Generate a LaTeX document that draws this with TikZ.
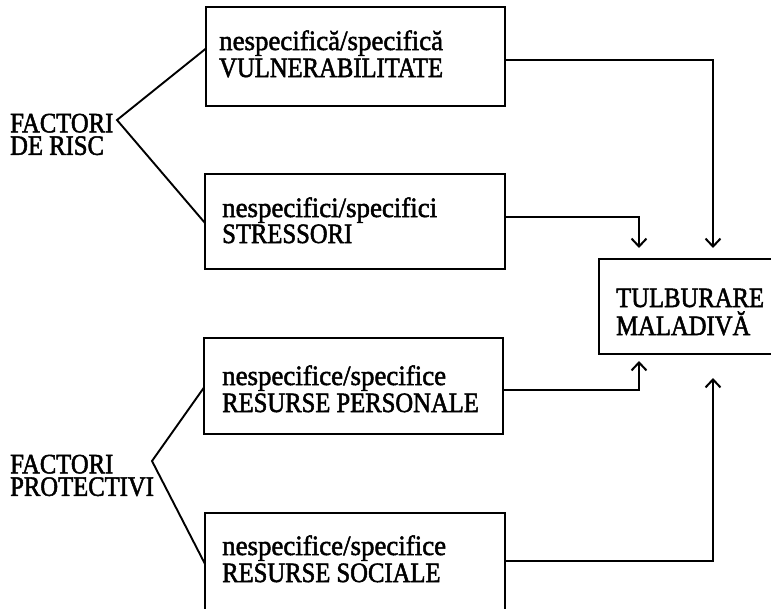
\documentclass[tikz,border=0pt]{standalone}
\usepackage{fontspec}
\setmainfont{Liberation Serif}
\newfontfamily\lowfont[FakeStretch=0.96,FakeBold=1.8]{Liberation Serif}
\newfontfamily\capsfont[FakeStretch=0.88,FakeBold=1.8]{Liberation Serif}
\usetikzlibrary{arrows.meta,calc}

\begin{document}
\begin{tikzpicture}[x=1pt,y=-1pt,
    box/.style={draw,line width=2pt,inner sep=0pt,outer sep=0pt},
    lower/.style={anchor=base west,inner sep=0pt,text height=19pt,text depth=5pt,
                  font=\lowfont\fontsize{28}{28}\selectfont},
    upper/.style={anchor=base west,inner sep=0pt,text height=19pt,text depth=0.5pt,
                  font=\capsfont\fontsize{28}{28}\selectfont},
    group/.style={anchor=south west,inner sep=0pt,text depth=0pt,align=left,
                  font=\capsfont\fontsize{28}{22.5}\selectfont},
    link/.style={line width=1.9pt,line join=miter},
    flow/.style={line width=1.9pt,-{Straight Barb[length=8pt,width=15pt,line width=2pt]}}]

  \useasboundingbox (0,0) rectangle (771,608);
  \clip (0,0) rectangle (771,608);

  % the five boxes
  \node[box,minimum width=299pt,minimum height=99pt] (vuln) at (355.5,56.5) {};
  \node[box,minimum width=300pt,minimum height=95pt] (stress) at (355,221.5) {};
  \node[box,minimum width=299pt,minimum height=96pt] (pers) at (353.5,386) {};
  \node[box,minimum width=300pt,minimum height=98pt] (soc) at (355,562) {};
  \node[box,minimum width=200pt,minimum height=95pt] (tulb) at (699,306.5) {};

  % box texts
  \node[lower] (vulnA) at (219,50) {nespecifică/specifică};
  \node[upper] (vulnB) at (219,77) {VULNERABILITATE};
  \node[lower] (stressA) at (222,217) {nespecifici/specifici};
  \node[upper] (stressB) at (222,243) {STRESSORI};
  \node[lower] (persA) at (222,385) {nespecifice/specifice};
  \node[upper] (persB) at (222,412) {RESURSE PERSONALE};
  \node[lower] (socA) at (222,555) {nespecifice/specifice};
  \node[upper] (socB) at (222,582) {RESURSE SOCIALE};
  \node[upper] (tulbA) at (616,307) {TULBURARE};
  \node[upper] (tulbB) at (616,335) {MALADIVĂ};

  % group labels on the left
  \node[group] (risk label) at (10,155) {FACTORI\\DE RISC};
  \node[group] (prot label) at (10,496) {FACTORI\\PROTECTIVI};

  % branching points
  \coordinate (risk) at (117,120);
  \coordinate (prot) at (152,461);

  \draw[link] ($(vuln.west)+(0,-8)$) -- (risk) -- ($(stress.west)+(0,1.5)$);
  \draw[link] ($(pers.west)+(0,1.5)$) -- (prot) -- ($(soc.west)+(0,2)$);

  % arrow end points near the outcome box
  \coordinate (inVuln) at (713,248);
  \coordinate (inStress) at (639,248);
  \coordinate (inPers) at (639,361);
  \coordinate (inSoc) at (713,378);

  \draw[flow] ($(vuln.east)+(0,3.5)$) -| (inVuln);
  \draw[flow] ($(stress.east)+(0,-4.5)$) -| (inStress);
  \draw[flow] ($(pers.east)+(0,4)$) -| (inPers);
  \draw[flow] ($(soc.east)+(0,-1)$) -| (inSoc);
\end{tikzpicture}
\end{document}
